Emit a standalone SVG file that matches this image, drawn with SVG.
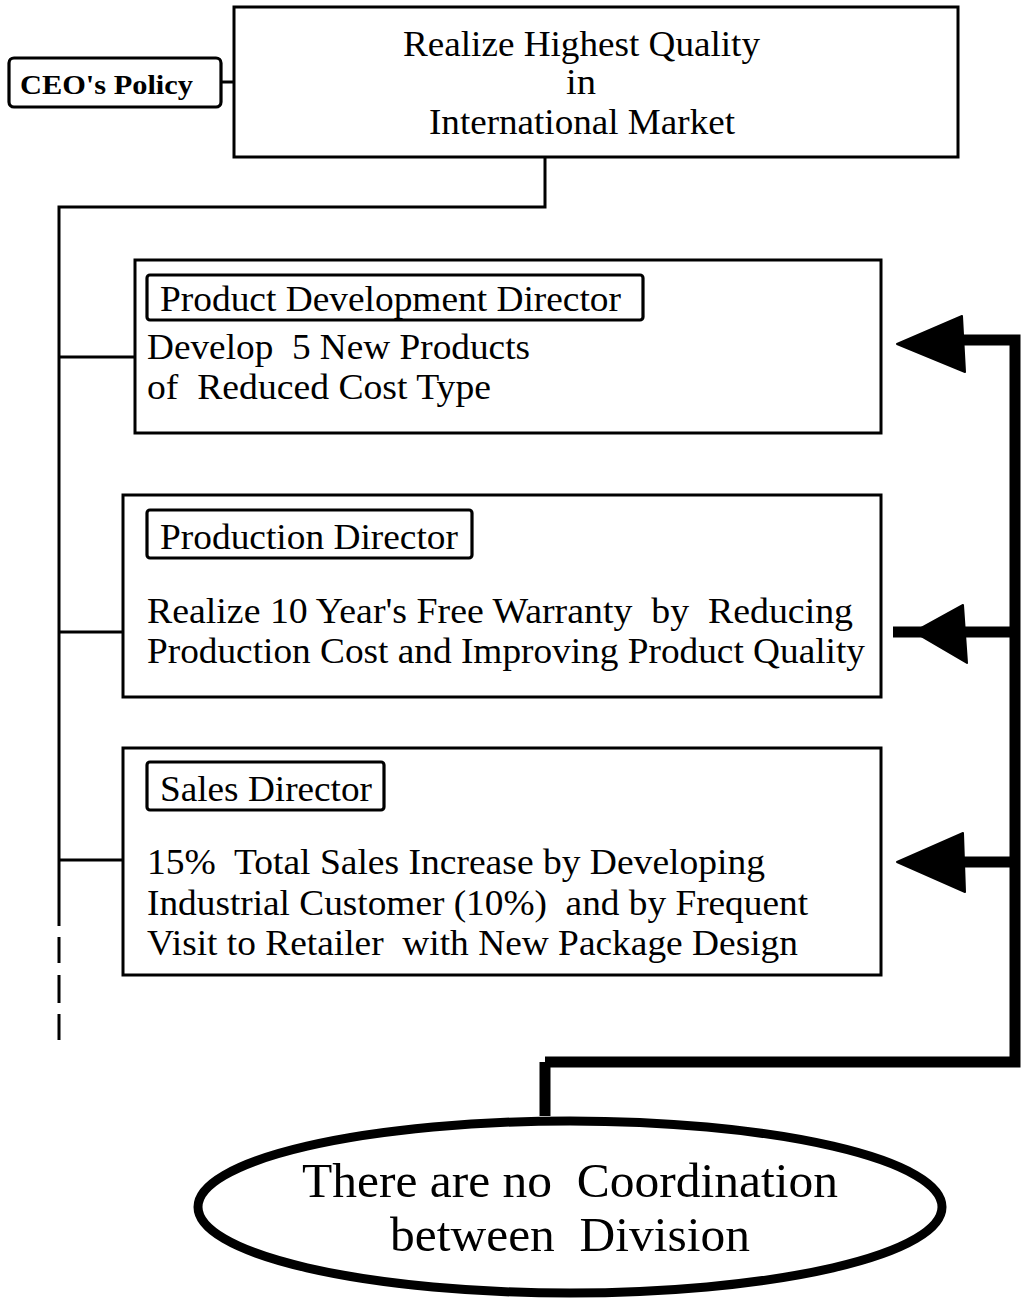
<svg xmlns="http://www.w3.org/2000/svg" width="1024" height="1304" viewBox="0 0 1024 1304">
  <style>
    .box { fill: #fff; stroke: #000; stroke-width: 3; }
    .tag { fill: #fff; stroke: #000; stroke-width: 3.2; }
    .txt { font-family: "Liberation Serif", "Times New Roman", serif; fill: #000; }
    .body { font-size: 36px; }
    .head { font-size: 36px; }
    .big { font-size: 48px; }
    .line { fill: none; stroke: #000; stroke-width: 3; }
    .thick { fill: none; stroke: #000; stroke-width: 11; stroke-linejoin: miter; }
    .head-arrow { fill: #000; stroke: #000; stroke-width: 2; stroke-linejoin: round; }
  </style>

  <!-- CEO policy tag -->
  <g id="ceo-policy">
    <rect class="tag" x="9" y="58" width="212" height="49" rx="5"/>
    <text class="txt" x="20" y="94" font-size="28" font-weight="bold" textLength="173" lengthAdjust="spacingAndGlyphs">CEO's Policy</text>
  </g>

  <!-- Company goal -->
  <g id="goal">
    <rect class="box" x="234" y="7" width="724" height="150"/>
    <text class="txt head" x="403" y="56" textLength="357" lengthAdjust="spacingAndGlyphs">Realize Highest Quality</text>
    <text class="txt head" x="566" y="94" textLength="30" lengthAdjust="spacingAndGlyphs">in</text>
    <text class="txt head" x="429" y="134" textLength="306" lengthAdjust="spacingAndGlyphs">International Market</text>
  </g>

  <!-- Product development division -->
  <g id="product-development">
    <rect class="box" x="135" y="260" width="746" height="173"/>
    <rect class="tag" x="147" y="275" width="496" height="45" rx="3"/>
    <text class="txt body" x="160" y="311" textLength="461" lengthAdjust="spacingAndGlyphs">Product Development Director</text>
    <text class="txt body" x="147" y="359" xml:space="preserve" textLength="383" lengthAdjust="spacingAndGlyphs">Develop  5 New Products</text>
    <text class="txt body" x="147" y="399" xml:space="preserve" textLength="344" lengthAdjust="spacingAndGlyphs">of  Reduced Cost Type</text>
  </g>

  <!-- Production division -->
  <g id="production">
    <rect class="box" x="123" y="495" width="758" height="202"/>
    <rect class="tag" x="147" y="510" width="325" height="48" rx="3"/>
    <text class="txt body" x="160" y="549" textLength="298" lengthAdjust="spacingAndGlyphs">Production Director</text>
    <text class="txt body" x="147" y="623" xml:space="preserve" textLength="706" lengthAdjust="spacingAndGlyphs">Realize 10 Year's Free Warranty  by  Reducing</text>
    <text class="txt body" x="147" y="663" textLength="718" lengthAdjust="spacingAndGlyphs">Production Cost and Improving Product Quality</text>
  </g>

  <!-- Sales division -->
  <g id="sales">
    <rect class="box" x="123" y="748" width="758" height="227"/>
    <rect class="tag" x="147" y="762" width="237" height="48" rx="3"/>
    <text class="txt body" x="160" y="801" textLength="212" lengthAdjust="spacingAndGlyphs">Sales Director</text>
    <text class="txt body" x="147" y="874" xml:space="preserve" textLength="618" lengthAdjust="spacingAndGlyphs">15%  Total Sales Increase by Developing</text>
    <text class="txt body" x="147" y="915" xml:space="preserve" textLength="661" lengthAdjust="spacingAndGlyphs">Industrial Customer (10%)  and by Frequent</text>
    <text class="txt body" x="147" y="955" xml:space="preserve" textLength="651" lengthAdjust="spacingAndGlyphs">Visit to Retailer  with New Package Design</text>
  </g>

  <!-- Finding -->
  <g id="finding">
    <ellipse cx="570" cy="1207" rx="372" ry="86" fill="#fff" stroke="#000" stroke-width="9"/>
    <text class="txt big" x="302" y="1197" xml:space="preserve" textLength="536" lengthAdjust="spacingAndGlyphs">There are no  Coordination</text>
    <text class="txt big" x="390" y="1251" xml:space="preserve" textLength="360" lengthAdjust="spacingAndGlyphs">between  Division</text>
  </g>

  <!-- Connectors -->
  <g id="connectors">
    <!-- policy tag to goal -->
    <path class="line" d="M221 82 H234"/>
    <!-- goal down to the divisions spine -->
    <path class="line" d="M545 157 V207 H59 V926"/>
    <path class="line" d="M59 937 V963 M59 975 V1003 M59 1014 V1040" stroke-width="3.5"/>
    <path class="line" d="M59 357 H135 M59 632 H123 M59 860 H123"/>

    <!-- feedback from the finding back to each division -->
    <path class="thick" d="M545 1116 V1062"/>
    <path class="thick" d="M545 1062 H1015 V340 H960"/>
    <path class="thick" d="M1015 632 H893" stroke-width="14"/>
    <path class="thick" d="M1015 862 H960"/>
    <polygon class="head-arrow" points="897,344 962,316 965,372"/>
    <polygon class="head-arrow" points="914,632 963,605 967,663"/>
    <polygon class="head-arrow" points="897,862 963,833 965,892"/>
  </g>
</svg>
